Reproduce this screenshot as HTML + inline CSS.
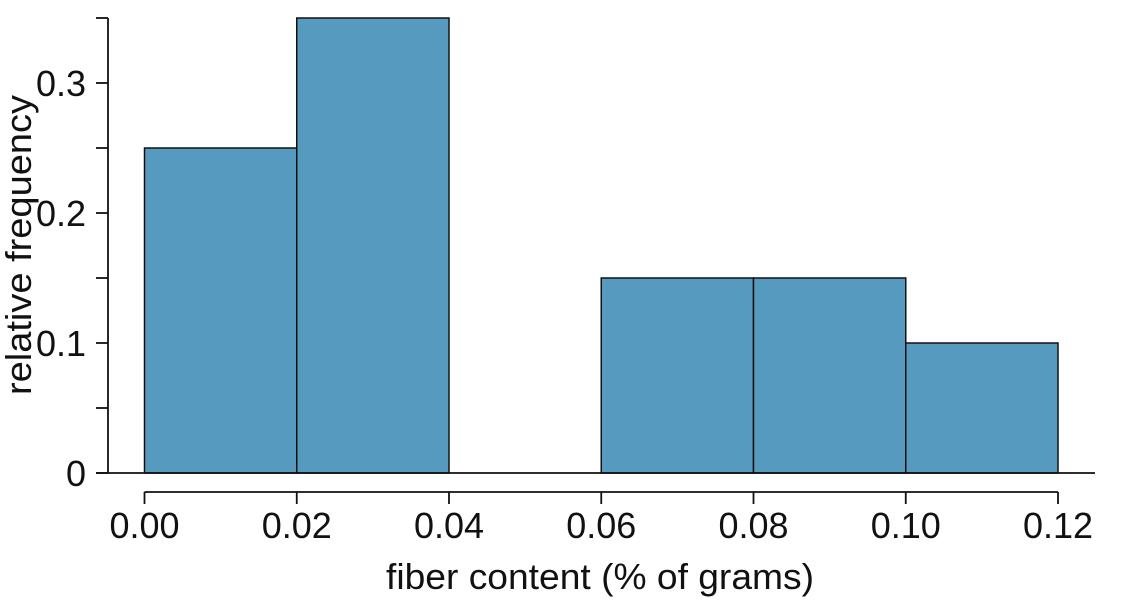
<!DOCTYPE html>
<html><head><meta charset="utf-8"><style>
body{margin:0;background:#fff;}
svg text{font-family:"Liberation Sans",sans-serif;fill:#111;}
</style></head><body>
<svg id="chart" width="1125" height="600" xmlns="http://www.w3.org/2000/svg">
<g id="bars"></g>
<g id="axes"></g>
<text x="600" y="589" text-anchor="middle" font-size="36" textLength="428" lengthAdjust="spacingAndGlyphs">fiber content (% of grams)</text>
<text transform="translate(31,245) rotate(-90)" text-anchor="middle" font-size="36" textLength="300" lengthAdjust="spacingAndGlyphs">relative frequency</text>
</svg>
<script>
const binStarts=[0.00,0.02,0.04,0.06,0.08,0.10];
const binWidth=0.02;
const freqs=[0.25,0.35,0.00,0.15,0.15,0.10];
const xTicks=[0.00,0.02,0.04,0.06,0.08,0.10,0.12];
const xTickLabels=["0.00","0.02","0.04","0.06","0.08","0.10","0.12"];
const yTicks=[0,0.1,0.2,0.3];
const yTickLabels=["0","0.1","0.2","0.3"];
const yMinorTicks=[0.05,0.15,0.25,0.35];

const NS="http://www.w3.org/2000/svg";
const xs=v=>144.5+v*(1058-144.5)/0.12;
const ys=v=>473-v*1300;
function mk(tag,attrs,parent){const e=document.createElementNS(NS,tag);for(const k in attrs)e.setAttribute(k,attrs[k]);parent.appendChild(e);return e;}
const bars=document.getElementById('bars'),axes=document.getElementById('axes');
binStarts.forEach((b,i)=>{
  const x0=xs(b),x1=xs(b+binWidth),y=ys(freqs[i]);
  const r=mk('rect',{x:x0,y:y,width:x1-x0,height:473-y,fill:'#569bbf',stroke:'#111','stroke-width':1.5},bars);
  
  
});
let l=mk('line',{x1:96,x2:1095,y1:473,y2:473,stroke:'#111','stroke-width':1.8},axes);


l=mk('line',{x1:108,x2:108,y1:ys(0.35),y2:473,stroke:'#111','stroke-width':1.8},axes);


yTicks.concat(yMinorTicks).forEach(v=>{
  const t=mk('line',{x1:96,x2:108,y1:ys(v),y2:ys(v),stroke:'#111','stroke-width':1.8},axes);
  
  
});
yTicks.forEach((v,i)=>{
  const t=mk('text',{x:86,y:ys(v)+13,'text-anchor':'end','font-size':36},axes);
  t.textContent=yTickLabels[i];
  
  
});
l=mk('line',{x1:xs(xTicks[0]),x2:xs(xTicks[xTicks.length-1]),y1:492,y2:492,stroke:'#111','stroke-width':1.8},axes);


xTicks.forEach((v,i)=>{
  const t=mk('line',{x1:xs(v),x2:xs(v),y1:492,y2:504,stroke:'#111','stroke-width':1.8},axes);
  
  
  const tx=mk('text',{x:xs(v),y:538,'text-anchor':'middle','font-size':36},axes);
  tx.textContent=xTickLabels[i];
  
  
});
</script>
</body></html>
